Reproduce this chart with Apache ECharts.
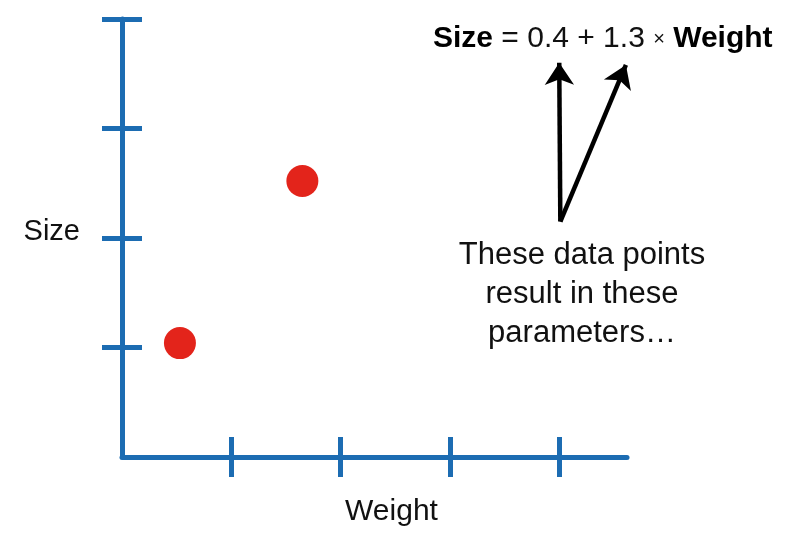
<!DOCTYPE html>
<html>
<head>
<meta charset="utf-8">
<script src="https://cdn.jsdelivr.net/npm/echarts@6/dist/echarts.min.js"></script>
<style>
html,body{margin:0;padding:0;background:#fff;}
#chart{width:799px;height:534px;}
</style>
</head>
<body>
<div id="chart"></div>
<script>
// ---- data ----
var weights = [0.53, 1.65];
var sizes = [1.04, 2.52];
var xTicks = [1, 2, 3, 4];
var yTicks = [1, 2, 3, 4];
var xName = 'Weight';
var yName = 'Size';
var equationBold1 = 'Size';
var equationMid = ' = 0.4 + 1.3 ';
var equationTimes = '×';
var equationBold2 = 'Weight';
var noteLines = ['These data points', 'result in these', 'parameters…'];
// arrows: start [weight, size] and end points
var arrowStart = [4.01, 2.15];
var arrowEnds = [[4.0, 3.60], [4.61, 3.58]];

var BLUE = '#1c6cb2';
var RED = '#e3241b';
var FONT = '"Liberation Sans", Arial, Helvetica, sans-serif';
var xMax = 4.62, yMax = 4;

var chart = echarts.init(document.getElementById('chart'), null, {renderer: 'canvas'});

function axisBase(extra) {
  return Object.assign({
    type: 'value', min: 0, interval: 1,
    splitLine: {show: false},
    axisLabel: {show: false}
  }, extra);
}

var option = {
  animation: false,
  backgroundColor: '#ffffff',
  grid: {left: 122, top: 19, width: 505, height: 438, containLabel: false, outerBoundsMode: 'none'},
  xAxis: [
    axisBase({
      max: xMax, position: 'bottom',
      name: xName, nameLocation: 'middle', nameGap: 40,
      nameTextStyle: {fontFamily: FONT, fontSize: 30, color: '#111', padding: [0, 0, 0, 34]},
      axisLine: {show: true, onZero: false, lineStyle: {color: BLUE, width: 5}},
      axisTick: {show: true, inside: false, length: 20, customValues: xTicks, lineStyle: {color: BLUE, width: 5}}
    }),
    axisBase({
      max: xMax, position: 'bottom', offset: 0,
      axisLine: {show: false},
      axisTick: {show: true, inside: true, length: 20, customValues: xTicks, lineStyle: {color: BLUE, width: 5}}
    })
  ],
  yAxis: [
    axisBase({
      max: yMax, position: 'left',
      name: yName, nameLocation: 'middle', nameGap: 42, nameRotate: 0,
      nameTextStyle: {fontFamily: FONT, fontSize: 29, color: '#111', verticalAlign: 'bottom', lineHeight: 12},
      axisLine: {show: true, onZero: false, lineStyle: {color: BLUE, width: 5}},
      axisTick: {show: true, inside: false, length: 20, customValues: yTicks, lineStyle: {color: BLUE, width: 5}}
    }),
    axisBase({
      max: yMax, position: 'left', offset: 0,
      axisLine: {show: false},
      axisTick: {show: true, inside: true, length: 20, customValues: yTicks, lineStyle: {color: BLUE, width: 5}}
    })
  ],
  series: [{
    type: 'scatter',
    xAxisIndex: 0, yAxisIndex: 0,
    symbol: 'circle', symbolSize: 32,
    itemStyle: {color: RED, opacity: 1},
    data: weights.map(function (w, i) { return [w, sizes[i]]; }),
    markLine: {
      silent: true,
      symbol: ['none', 'arrow'],
      symbolSize: 22,
      label: {show: false},
      itemStyle: {color: '#000'},
      lineStyle: {color: '#000', width: 4.5, type: 'solid', opacity: 1},
      data: arrowEnds.map(function (e) {
        return [{coord: arrowStart}, {coord: e}];
      })
    }
  }],
  graphic: [
    {
      type: 'text', left: 433, top: 24,
      style: {
        text: '{b|' + equationBold1 + '}{r|' + equationMid + '}{s|' + equationTimes + '}{r| }{b|' + equationBold2 + '}',
        rich: {
          b: {fontFamily: FONT, fontSize: 30, fontWeight: 'bold', fill: '#000'},
          r: {fontFamily: FONT, fontSize: 30, fill: '#111'},
          s: {fontFamily: FONT, fontSize: 20, fill: '#111'}
        }
      }
    },
    {
      type: 'text',
      style: {
        x: 582, y: 294,
        text: noteLines.join('\n'),
        font: '31px ' + FONT,
        lineHeight: 39,
        fill: '#111',
        textAlign: 'center', textVerticalAlign: 'middle'
      }
    }
  ]
};
chart.setOption(option);
</script>
</body>
</html>
